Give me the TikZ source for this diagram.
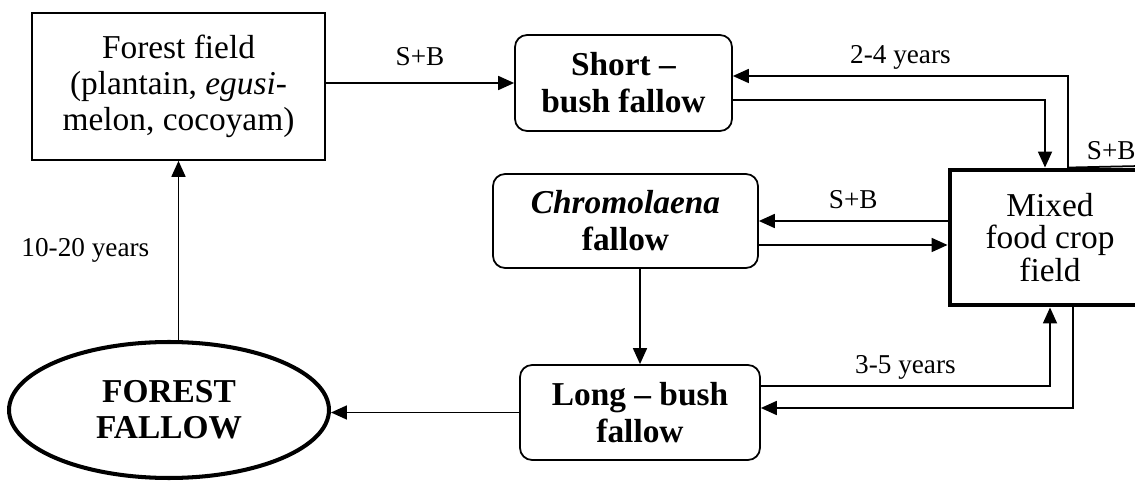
\documentclass[tikz,border=0pt]{standalone}
\usepackage{fontspec}
\setmainfont{Liberation Serif}
\usetikzlibrary{arrows.meta,shapes.geometric}

\tikzset{
  arr/.style = {-{Triangle[length=0.32cm,width=0.28cm]}, line width=1pt},
  lbl/.style = {font=\fontsize{15.5}{18}\selectfont},
  fieldbox/.style = {draw, line width=1pt, align=center, inner sep=0pt,
                     font=\fontsize{19}{20.5}\selectfont},
  fallowbox/.style = {fieldbox, rounded corners=0.24cm,
                      font=\fontsize{19}{21}\selectfont\bfseries},
  mixbox/.style = {fieldbox, line width=2.8pt, font=\fontsize{19}{18.5}\selectfont},
  forestoval/.style = {ellipse, draw, line width=2.3pt, align=center, inner sep=0pt,
                       font=\fontsize{19}{20.5}\selectfont\bfseries}
}

\begin{document}
\begin{tikzpicture}[x=0.02cm, y=-0.02cm]
        \useasboundingbox (0,0) rectangle (1135,482);

        % fields and fallows
        \node[fieldbox, minimum width=5.86cm, minimum height=2.94cm] (ffield) at (178.5,86.5)
             {Forest field\\(plantain, \textit{egusi}-\\melon, cocoyam)};
        \node[fallowbox, minimum width=4.34cm, minimum height=1.92cm] (short) at (623.5,83)
             {Short –\\bush fallow};
        \node[fallowbox, minimum width=5.3cm, minimum height=1.88cm] (chrom) at (625.5,221)
             {\textit{Chromolaena}\\fallow};
        \node[fallowbox, minimum width=4.8cm, minimum height=1.9cm] (long) at (640,412.5)
             {Long – bush\\fallow};
        \node[mixbox, minimum width=4cm, minimum height=2.7cm] (mixed) at (1050,237.5)
             {Mixed\\food crop\\field};
        \node[forestoval, minimum width=6.4cm, minimum height=2.72cm] (ffallow) at (169,410)
             {FOREST\\FALLOW};
        \coordinate (sbend) at (1140,166);
        \coordinate (chromlow) at ([yshift=-0.48cm]chrom.east);

        % transitions
        \draw[arr] (ffield.east |- short.west) -- (short.west)
             node[lbl, midway, above=0.2cm] {S+B};
        \draw[arr] ([xshift=0.36cm]mixed.north) |- ([yshift=0.14cm]short.east)
             node[lbl, pos=0.75, above] {2-4 years};
        \draw[arr] ([yshift=-0.34cm]short.east) -| ([xshift=-0.1cm]mixed.north);
        \draw[line width=1pt] ([xshift=0.36cm]mixed.north) -- (sbend)
             node[lbl, pos=0.6, above] {S+B};
        \draw[arr] (mixed.west |- chrom.east) -- (chrom.east)
             node[lbl, midway, above=0.1cm] {S+B};
        \draw[arr] (chromlow) -- (chromlow -| mixed.west);
        \draw[arr] (chrom.south -| long.north) -- (long.north);
        \draw[arr] ([yshift=0.53cm]long.east) -| (mixed.south)
             node[lbl, pos=0.25, above] {3-5 years};
        \draw[arr] ([xshift=0.46cm]mixed.south) |- ([yshift=0.09cm]long.east);
        \draw[arr] (long.west) -- (long.west -| ffallow.east);
        \draw[arr] (ffallow.north -| ffield.south) -- (ffield.south)
             node[lbl, midway, left=0.45cm] {10-20 years};
\end{tikzpicture}
\end{document}
